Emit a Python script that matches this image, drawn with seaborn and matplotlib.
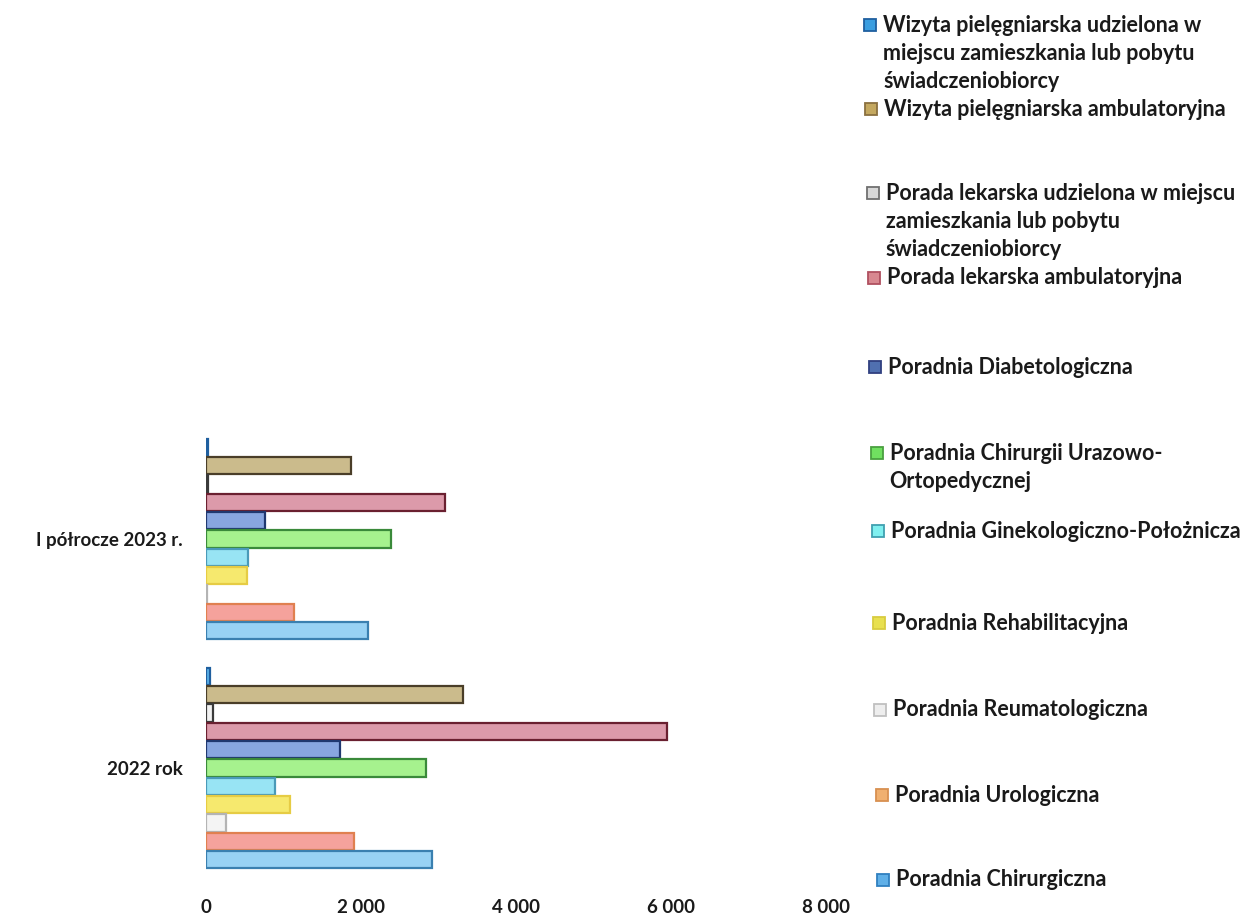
import matplotlib
matplotlib.use("Agg")
import matplotlib.pyplot as plt
from matplotlib.patches import Rectangle
import pandas as pd
import seaborn as sns

# --- data -------------------------------------------------------------
periods = ["I półrocze 2023 r.", "2022 rok"]

kinds = [
    "Wizyta pielęgniarska udzielona w miejscu zamieszkania lub pobytu świadczeniobiorcy",
    "Wizyta pielęgniarska ambulatoryjna",
    "Porada lekarska udzielona w miejscu zamieszkania lub pobytu świadczeniobiorcy",
    "Porada lekarska ambulatoryjna",
    "Poradnia Diabetologiczna",
    "Poradnia Chirurgii Urazowo-Ortopedycznej",
    "Poradnia Ginekologiczno-Położnicza",
    "Poradnia Rehabilitacyjna",
    "Poradnia Reumatologiczna",
    "Poradnia Urologiczna",
    "Poradnia Chirurgiczna",
]

values_2023 = [20, 1870, 30, 3080, 760, 2390, 540, 530, 10, 1140, 2090]
values_2022 = [50, 3320, 90, 5950, 1730, 2840, 890, 1080, 260, 1910, 2920]

legend_lines = [
    ["Wizyta pielęgniarska udzielona w", "miejscu zamieszkania lub pobytu", "świadczeniobiorcy"],
    ["Wizyta pielęgniarska ambulatoryjna"],
    ["Porada lekarska udzielona w miejscu", "zamieszkania lub pobytu", "świadczeniobiorcy"],
    ["Porada lekarska ambulatoryjna"],
    ["Poradnia Diabetologiczna"],
    ["Poradnia Chirurgii Urazowo-", "Ortopedycznej"],
    ["Poradnia Ginekologiczno-Położnicza"],
    ["Poradnia Rehabilitacyjna"],
    ["Poradnia Reumatologiczna"],
    ["Poradnia Urologiczna"],
    ["Poradnia Chirurgiczna"],
]

x_ticks = [0, 2000, 4000, 6000, 8000]
x_tick_labels = ["0", "2 000", "4 000", "6 000", "8 000"]

# --- styling ----------------------------------------------------------
bar_fill = ["#5ab0e8", "#cbbb8c", "#f2f2f2", "#dc9aaa", "#88a6e0", "#a6f28e",
            "#98e4f4", "#f6e96e", "#f4f4f4", "#f5a29c", "#98d2f4"]
bar_edge = ["#1f5f9f", "#4a3e28", "#3a3a3a", "#6a2030", "#203870", "#3a8a3a",
            "#4a9ab8", "#e6cc44", "#b4b4b4", "#e08050", "#3a80b0"]
marker_fill = ["#3b9ee0", "#c4a860", "#d8d8d8", "#d88890", "#5070b0", "#70e060",
               "#80f0f0", "#e8e050", "#eeeeee", "#f0b070", "#60b0e8"]
marker_edge = ["#1f5f9f", "#8a7040", "#707070", "#b05060", "#304080", "#4aa040",
               "#40a0b0", "#d8cc40", "#c0c0c0", "#d89050", "#3080c0"]

sns.set_style("white")
plt.rcParams["font.family"] = ["Lato", "DejaVu Sans"]
plt.rcParams["font.weight"] = "bold"

df = pd.DataFrame({
    "okres": [periods[0]] * len(kinds) + [periods[1]] * len(kinds),
    "rodzaj": kinds + kinds,
    "liczba": values_2023 + values_2022,
})

W, H = 1249, 919
fig = plt.figure(figsize=(W / 100, H / 100), dpi=100)
ax = fig.add_axes([206 / W, (H - 882.5) / H, 620 / W, 458 / H])

sns.barplot(
    data=df, y="okres", x="liczba", hue="rodzaj",
    order=periods, hue_order=kinds,
    palette=dict(zip(kinds, bar_fill)), saturation=1,
    orient="h", width=0.88, gap=0.06, legend=False, ax=ax,
)

for container, edge in zip(ax.containers, bar_edge):
    for bar in container:
        bar.set_edgecolor(edge)
        bar.set_linewidth(1.6)

ax.set_xlim(0, 8000)
ax.set_xticks(x_ticks)
ax.set_xticklabels(x_tick_labels)
ax.set_xlabel("")
ax.set_ylabel("")
ax.tick_params(axis="x", length=0, pad=12, labelsize=13.5)
ax.tick_params(axis="y", length=0, pad=17, labelsize=13.5)
for lbl in ax.get_xticklabels() + ax.get_yticklabels():
    lbl.set_fontweight("bold")
    lbl.set_color("#1a1a1a")
for s in ax.spines.values():
    s.set_visible(False)
ax.grid(False)

# --- legend (entries listed top to bottom) ---------------------------
first_line_y = [25, 109, 193, 278, 367, 453, 531, 623, 710, 795, 880]
line_step = 28
for i, lines in enumerate(legend_lines):
    y0 = first_line_y[i]
    tx = 883 + (y0 - 25) / (880 - 25) * 13
    size = 12
    fig.patches.append(Rectangle(
        ((tx - 19) / W, (H - y0 - size / 2) / H), size / W, size / H,
        transform=fig.transFigure, facecolor=marker_fill[i],
        edgecolor=marker_edge[i], linewidth=1.3))
    for k, line in enumerate(lines):
        fig.text(tx / W, (H - (y0 + k * line_step)) / H, line,
                 ha="left", va="center", fontsize=15.5, fontweight="bold",
                 color="#1a1a1a")

fig.savefig("out.png", dpi=100, facecolor="white")
